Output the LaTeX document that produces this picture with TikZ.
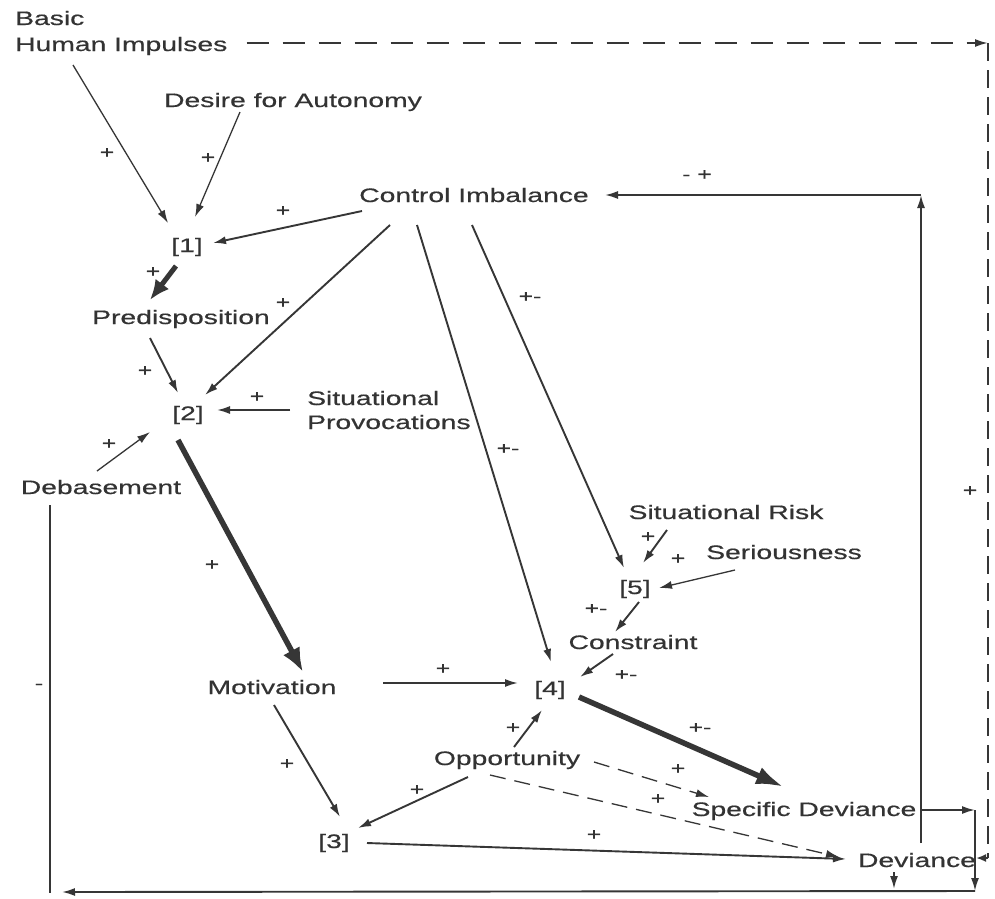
\documentclass[tikz,border=0pt]{standalone}
\usepackage{fontspec}
\setmainfont{Liberation Sans}[FakeStretch=1.45,FakeBold=0.5]
\usetikzlibrary{arrows.meta}
\definecolor{ink}{HTML}{333333}
\definecolor{wire}{HTML}{363636}
\begin{document}
\begin{tikzpicture}[x=1pt,y=-1pt,
  every node/.style={inner sep=0pt, text=ink, font=\fontsize{19.5}{24}\selectfont, text height=14pt, text depth=0pt},
  lbl/.style={font=\fontsize{17}{20}\selectfont, text height=12pt},
  line/.style={draw=wire, line width=1.9pt},
  conn/.style={line, -{Latex[length=13pt,width=8pt]}},
  thinline/.style={line width=1.3pt},
  heavyA/.style={draw=wire, line width=5pt, -{Latex[length=20pt,width=17pt]}},
  heavyB/.style={draw=wire, line width=5.5pt, -{Latex[length=24pt,width=19pt]}},
  heavyC/.style={draw=wire, line width=5.5pt, -{Latex[length=28pt,width=18pt]}},
  dsh/.style={dash pattern=on 16pt off 9pt},
  dshH/.style={dash pattern=on 22pt off 14pt},
  dshV/.style={dash pattern=on 18pt off 9pt}]
\fill[white] (0,0) rectangle (995,898);
\useasboundingbox (0,0) rectangle (995,898);

% nodes
\node[anchor=west] (bhiA) at (15,18) {Basic};
\node[anchor=west] (bhi) at (15,44) {Human Impulses};
\node (dfa) at (293,100) {Desire for Autonomy};
\node (ci) at (474,195) {Control Imbalance};
\node (n1) at (187,245) {[1]};
\node (pre) at (181,317) {Predisposition};
\node (n2) at (188,413) {[2]};
\node[anchor=west] (spA) at (307,398) {Situational};
\node[anchor=west] (sp) at (307,422) {Provocations};
\node (deb) at (101,487) {Debasement};
\node (mot) at (272,687) {Motivation};
\node (n3) at (334,841) {[3]};
\node (opp) at (507,758) {Opportunity};
\node (n4) at (550,688) {[4]};
\node (con) at (633,642) {Constraint};
\node (n5) at (635,587) {[5]};
\node (sr) at (726,512) {Situational Risk};
\node (ser) at (784,552) {Seriousness};
\node (sd) at (804,809) {Specific Deviance};
\node (dev) at (917,860) {Deviance};

% corner coordinates
\coordinate (c1) at (988,43);
\coordinate (c2) at (988,858);
\coordinate (c3) at (921,195);
\coordinate (c4) at (975,810);
\coordinate (c5) at (975,891);
\coordinate (c6) at (62,892);
\coordinate (c7) at (50,893);

% connectors
\draw[conn,thinline] ([shift={(58,21)}]bhi.west) -- ([shift={(-19,-22)}]n1.center);
\draw[conn,thinline] ([shift={(-53,12)}]dfa.center) -- ([shift={(8,-28)}]n1.center);
\draw[conn] ([shift={(-112,16)}]ci.center) -- ([shift={(26,-2)}]n1.center);
\draw[heavyA] ([shift={(-11,21)}]n1.center) -- ([shift={(-31,-17)}]pre.center);
\draw[conn] ([shift={(-84,30)}]ci.center) -- ([shift={(17,-18)}]n2.center);
\draw[conn] ([shift={(-31,21)}]pre.center) -- ([shift={(-10,-20)}]n2.center);
\draw[conn] ([shift={(-17,-12)}]sp.west) -- ([shift={(29,-3)}]n2.center);
\draw[conn,thinline] ([shift={(-4,-16)}]deb.center) -- ([shift={(-38,19)}]n2.center);
\draw[heavyB] ([shift={(-10,27)}]n2.center) -- ([shift={(31,-15)}]mot.center);
\draw[conn] ([shift={(-57,30)}]ci.center) -- ([shift={(1,-26)}]n4.center);
\draw[conn] ([shift={(-2,30)}]ci.center) -- ([shift={(-11,-19)}]n5.center);
\draw[conn] ([shift={(-59,18)}]sr.center) -- ([shift={(8,-24)}]n5.center);
\draw[conn,thinline] ([shift={(-49,18)}]ser.center) -- ([shift={(24,1)}]n5.center);
\draw[conn] ([shift={(4,15)}]n5.center) -- ([shift={(-18,-10)}]con.center);
\draw[conn] ([shift={(-20,12)}]con.center) -- ([shift={(30,-11)}]n4.center);
\draw[conn] ([shift={(111,-4)}]mot.center) -- ([shift={(-32,-5)}]n4.center);
\draw[conn] ([shift={(7,-11)}]opp.center) -- ([shift={(-8,22)}]n4.center);
\draw[heavyC] ([shift={(29,9)}]n4.center) -- ([shift={(-20,-22)}]sd.center);
\draw[conn,thinline,dsh] ([shift={(87,4)}]opp.center) -- ([shift={(-95,-12)}]sd.center);
\draw[conn,thinline,dsh] ([shift={(-17,17)}]opp.center) -- ([shift={(-78,-3)}]dev.center);
\draw[conn] ([shift={(-39,19)}]opp.center) -- ([shift={(24,-13)}]n3.center);
\draw[conn] ([shift={(2,18)}]mot.center) -- ([shift={(6,-24)}]n3.center);
\draw[conn] ([shift={(33,2)}]n3.center) -- ([shift={(-71,-1)}]dev.center);

% feedback paths
\draw[conn,dshH] ([shift={(19,-1)}]bhi.east) -- (c1);
\draw[line,dshV] (c1) -- (c2);
\draw[line,-{Latex[length=10pt,width=8pt]}] (c2) -- ([shift={(59,-2)}]dev.center);
\draw[conn] ([shift={(4,-17)}]dev.center) -- (c3);
\draw[conn] (c3) -- ([shift={(131,0)}]ci.center);
\draw[conn] ([shift={(116,1)}]sd.center) -- (c4);
\draw[conn] (c4) -- (c5);
\draw[conn] ([shift={(-23,12)}]dev.center) -- ([shift={(-23,29)}]dev.center);
\draw[conn] (c5) -- (c6);
\draw[line] ([shift={(-51,18)}]deb.center) -- (c7);

% labels
\node[lbl] (l1) at (107,152) {+};
\node[lbl] (l2) at (208,157) {+};
\node[lbl] (l3) at (283,210) {+};
\node[lbl] (l4) at (153,271) {+};
\node[lbl] (l5) at (283,302) {+};
\node[lbl] (l6) at (145,370) {+};
\node[lbl] (l7) at (257,396) {+};
\node[lbl] (l8) at (109,443) {+};
\node[lbl] (l9) at (212,564) {+};
\node[lbl] (l10) at (508,448) {+-};
\node[lbl] (l11) at (530,296) {+-};
\node[lbl] (l12) at (648,536) {+};
\node[lbl] (l13) at (678,558) {+};
\node[lbl] (l14) at (596,608) {+-};
\node[lbl] (l15) at (626,674) {+-};
\node[lbl] (l16) at (443,668) {+};
\node[lbl] (l17) at (513,727) {+};
\node[lbl] (l18) at (700,727) {+-};
\node[lbl] (l19) at (678,768) {+};
\node[lbl] (l20) at (658,798) {+};
\node[lbl] (l21) at (417,789) {+};
\node[lbl] (l22) at (287,763) {+};
\node[lbl] (l23) at (594,834) {+};
\node[lbl] (l24) at (970,490) {+};
\node[lbl] (l25) at (697,174) {- +};
\node[lbl] (l26) at (39,683) {-};
\end{tikzpicture}
\end{document}
